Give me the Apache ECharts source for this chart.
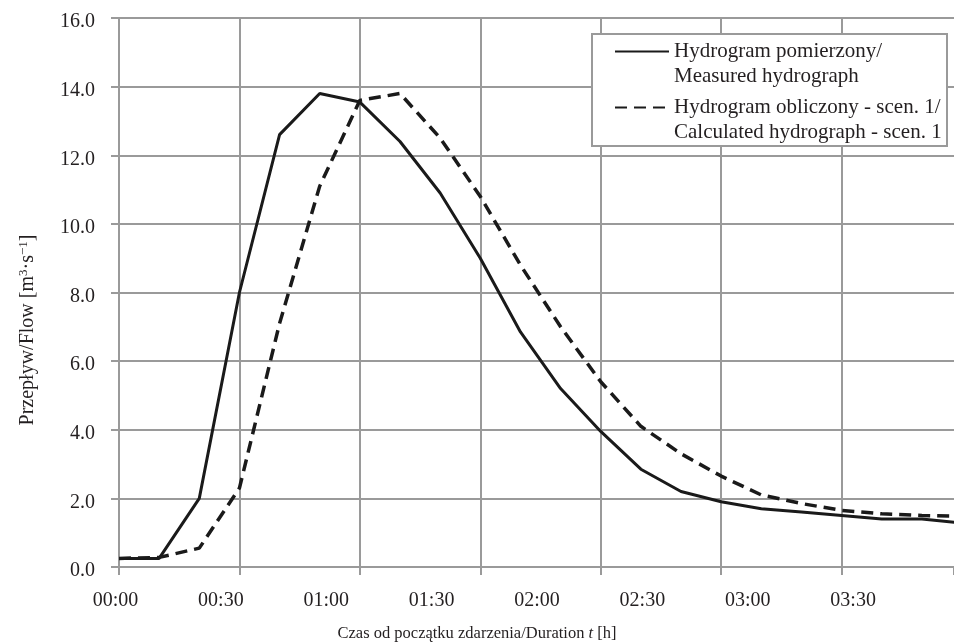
<!DOCTYPE html>
<html>
<head>
<meta charset="utf-8">
<script src="https://cdn.jsdelivr.net/npm/echarts@6/dist/echarts.min.js"></script>
<style>
  html, body { margin: 0; padding: 0; background: #fff; }
  #chart { width: 954px; height: 643px; }
</style>
</head>
<body>
<div id="chart"></div>
<script>
// time from start of event, minutes
var minutes = [0, 10, 20, 30, 40, 50, 60, 70, 80, 90, 100, 110, 120, 130, 140, 150, 160, 170, 180, 190, 200, 210];
var measured = [0.25, 0.25, 2.0, 8.0, 12.6, 13.8, 13.55, 12.4, 10.9, 9.0, 6.85, 5.2, 3.95, 2.85, 2.2, 1.9, 1.7, 1.6, 1.5, 1.4, 1.4, 1.28];
var calculated = [0.25, 0.28, 0.55, 2.3, 7.1, 11.1, 13.6, 13.8, 12.5, 10.8, 8.8, 7.0, 5.4, 4.1, 3.3, 2.65, 2.1, 1.85, 1.65, 1.55, 1.5, 1.48];
var tickLabels = ['00:00', '00:30', '01:00', '01:30', '02:00', '02:30', '03:00', '03:30'];
var seriesNames = ['Hydrogram pomierzony/\nMeasured hydrograph', 'Hydrogram obliczony - scen. 1/\nCalculated hydrograph - scen. 1'];

var font = 'Liberation Serif';
var ink = '#231f20';
var gridGrey = '#9a9a9a';
var xMax = 208; // visible end of the time axis (chart is cut at the right)

function pairs(vals) {
    return vals.map(function (v, i) { return [minutes[i], v]; });
}

var myChart = echarts.init(document.getElementById('chart'));

var option = {
    animation: false,
    textStyle: { fontFamily: font, color: ink },
    grid: { left: 119, top: 18, bottom: 76, right: 0, outerBoundsMode: 'none' },
    graphic: [{
        type: 'rect',
        z: 5,
        shape: { x: 592, y: 34, width: 355, height: 112 },
        style: { fill: '#fff', stroke: gridGrey, lineWidth: 2 }
    }],
    legend: {
        orient: 'vertical',
        left: 614,
        top: 14,
        z: 10,
        padding: 0,
        itemGap: -19,
        itemWidth: 54,
        itemHeight: 14,
        selectedMode: false,
        data: seriesNames,
        itemStyle: { opacity: 0, borderWidth: 0 },
        // leading blank line keeps the icon level with the first text line
        formatter: function (name) { return '\n' + name; },
        textStyle: { fontFamily: font, fontSize: 21, color: ink, lineHeight: 25 }
    },
    xAxis: [
        {
            type: 'value',
            min: 0,
            max: xMax,
            interval: 30,
            axisLine: { lineStyle: { color: gridGrey, width: 2 } },
            axisTick: { show: true, length: 8, lineStyle: { color: gridGrey, width: 2 } },
            axisLabel: { show: false },
            splitLine: { show: true, showMaxLine: false, lineStyle: { color: gridGrey, width: 2 } },
            name: 'Czas od początku zdarzenia/Duration {it|t} [h]',
            nameLocation: 'middle',
            nameGap: 58,
            nameTextStyle: {
                fontFamily: font, fontSize: 16.5, color: ink,
                padding: [0, 119, 0, 0],
                rich: { it: { fontFamily: font, fontSize: 16.5, fontStyle: 'italic', color: ink } }
            }
        },
        {
            // label axis, drawn with the original's narrower label spacing
            type: 'value',
            position: 'bottom',
            min: 0,
            max: xMax * 8 / 7,
            interval: 30,
            axisLine: { show: false },
            axisTick: { show: false },
            splitLine: { show: false },
            axisLabel: {
                margin: 24,
                fontFamily: font, fontSize: 20, color: ink,
                padding: [0, 7, 0, 0],
                showMaxLabel: false,
                formatter: function (v) { return tickLabels[Math.round(v / 30)] || ''; }
            }
        }
    ],
    yAxis: {
        type: 'value',
        min: 0,
        max: 16,
        interval: 2,
        axisLine: { show: true, lineStyle: { color: gridGrey, width: 2 } },
        axisTick: { show: true, length: 8, lineStyle: { color: gridGrey, width: 2 } },
        axisLabel: {
            margin: 24,
            formatter: function (v) { return '{v|' + v.toFixed(1) + '}'; },
            rich: { v: { fontFamily: font, fontSize: 20, color: ink, padding: [8, 0, 0, 0] } }
        },
        splitLine: { show: true, lineStyle: { color: gridGrey, width: 2 } },
        name: 'Przepływ/Flow [m{sup|3}·s{sup|−1}]',
        nameLocation: 'middle',
        nameGap: 80,
        nameTextStyle: {
            fontFamily: font, fontSize: 20, color: ink,
            padding: [0, 75, 0, 0],
            rich: { sup: { fontFamily: font, fontSize: 13, color: ink, padding: [0, 0, 9, 0] } }
        }
    },
    series: [
        {
            name: seriesNames[0],
            type: 'line',
            xAxisIndex: 0,
            symbol: 'none',
            data: pairs(measured),
            lineStyle: { color: '#1a1a1a', width: 3 },
            itemStyle: { color: '#1a1a1a' }
        },
        {
            name: seriesNames[1],
            type: 'line',
            xAxisIndex: 0,
            symbol: 'none',
            data: pairs(calculated),
            lineStyle: { color: '#1a1a1a', width: 3.5, type: [12, 7] },
            itemStyle: { color: '#1a1a1a' }
        }
    ]
};

myChart.setOption(option);
</script>
</body>
</html>
